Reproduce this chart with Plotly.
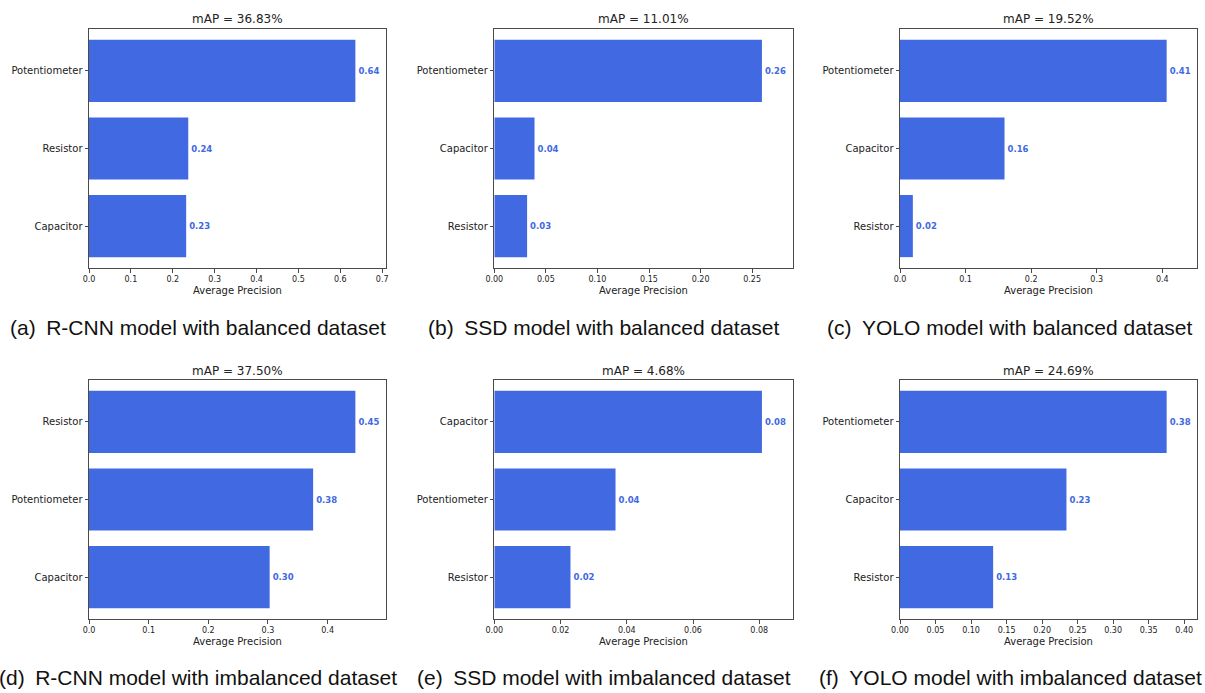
import plotly.graph_objects as go

# Per-class average precision for each detector / dataset combination
# (categories listed top to bottom as drawn)
cats_a = ["Potentiometer", "Resistor", "Capacitor"]
ap_a = [0.636, 0.237, 0.232]

cats_b = ["Potentiometer", "Capacitor", "Resistor"]
ap_b = [0.2595, 0.0390, 0.0318]

cats_c = ["Potentiometer", "Capacitor", "Resistor"]
ap_c = [0.4066, 0.1594, 0.0196]

cats_d = ["Resistor", "Potentiometer", "Capacitor"]
ap_d = [0.4465, 0.3757, 0.3028]

cats_e = ["Capacitor", "Potentiometer", "Resistor"]
ap_e = [0.0808, 0.0366, 0.0230]

cats_f = ["Potentiometer", "Capacitor", "Resistor"]
ap_f = [0.3753, 0.2343, 0.1311]

captions = [
    "(a)\u2002R-CNN model with balanced dataset",
    "(b)\u2002SSD model with balanced dataset",
    "(c)\u2002YOLO model with balanced dataset",
    "(d)\u2002R-CNN model with imbalanced dataset",
    "(e)\u2002SSD model with imbalanced dataset",
    "(f)\u2002YOLO model with imbalanced dataset",
]

tick_steps = [0.1, 0.05, 0.1, 0.1, 0.02, 0.05]
tick_formats = [".1f", ".2f", ".1f", ".1f", ".2f", ".2f"]

panels = [(cats_a, ap_a), (cats_b, ap_b), (cats_c, ap_c),
          (cats_d, ap_d), (cats_e, ap_e), (cats_f, ap_f)]

W, H = 1205, 693
BAR = "#4169E1"
SPINE = "#4a4a4a"
TXT = "#222222"
FONT = "DejaVu Sans"

# plot-area boxes in pixels
col_px = [(89, 386), (494.3, 792.7), (900, 1197.3)]
row_px = [(29, 268), (380, 619)]
caption_cx = [198, 604, 1010]
caption_cy = [327, 677]


def px_x(x):
    return x / W


def px_y(y):
    return 1 - y / H


fig = go.Figure()
annotations = []

for i, (cats, vals) in enumerate(panels):
    r, c = divmod(i, 3)
    n = i + 1
    xa = "x" if n == 1 else f"x{n}"
    ya = "y" if n == 1 else f"y{n}"
    fig.add_trace(go.Bar(
        x=vals, y=cats, orientation="h", width=0.8,
        marker=dict(color=BAR, line=dict(width=0)),
        text=[f"{v:.2f}" for v in vals], textposition="outside",
        textfont=dict(family=FONT, size=8.5, color=BAR, weight="bold"),
        cliponaxis=False, xaxis=xa, yaxis=ya, showlegend=False,
        hoverinfo="skip",
    ))
    x0, x1 = col_px[c]
    y0, y1 = row_px[r]
    common = dict(showline=True, mirror=True, linecolor=SPINE, linewidth=1,
                  ticks="outside", ticklen=3.5, tickwidth=1, tickcolor=SPINE,
                  showgrid=False, zeroline=False, automargin=False)
    fig.layout[f"xaxis{'' if n == 1 else n}"] = dict(
        domain=[px_x(x0), px_x(x1)], anchor=ya,
        range=[0, max(vals) * 1.115], dtick=tick_steps[i], tick0=0,
        tickformat=tick_formats[i],
        tickfont=dict(family=FONT, size=8, color=TXT), **common)
    fig.layout[f"yaxis{'' if n == 1 else n}"] = dict(
        domain=[px_y(y1), px_y(y0)], anchor=xa, type="category",
        categoryorder="array", categoryarray=cats,
        range=[2.54, -0.54],
        tickfont=dict(family=FONT, size=10, color=TXT), **common)

    mean_ap = sum(vals) / len(vals)
    cx = (x0 + x1) / 2
    annotations.append(dict(
        text=f"mAP = {mean_ap * 100:.2f}%", x=px_x(cx), y=px_y(y0 - 9.5),
        xref="paper", yref="paper", showarrow=False, xanchor="center",
        yanchor="middle", font=dict(family=FONT, size=12, color=TXT)))
    annotations.append(dict(
        text="Average Precision", x=px_x(cx), y=px_y(y1 + 22.5),
        xref="paper", yref="paper", showarrow=False, xanchor="center",
        yanchor="middle", font=dict(family=FONT, size=10, color=TXT)))
    annotations.append(dict(
        text=captions[i], x=px_x(caption_cx[c]), y=px_y(caption_cy[r]),
        xref="paper", yref="paper", showarrow=False, xanchor="center",
        yanchor="middle",
        font=dict(family="Liberation Sans", size=21, color="#111111")))

fig.update_layout(
    width=W, height=H, margin=dict(l=0, r=0, t=0, b=0, autoexpand=False),
    paper_bgcolor="white", plot_bgcolor="white",
    bargap=0.2, annotations=annotations,
)

fig.write_html("out.html")
